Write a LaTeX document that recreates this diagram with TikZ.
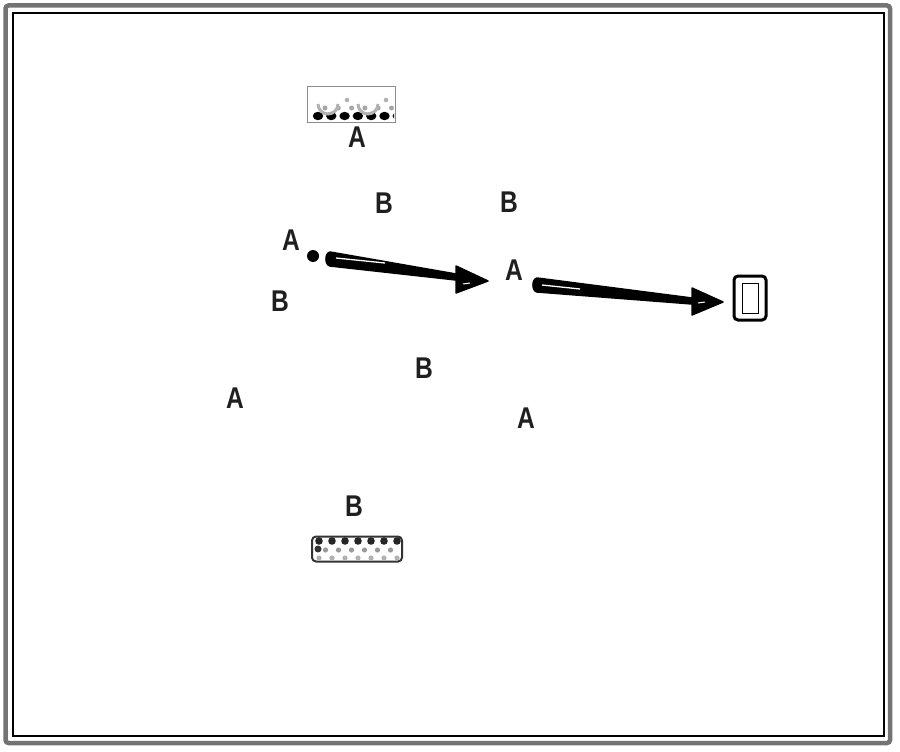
\documentclass[tikz,border=0pt]{standalone}
\usepackage{fontspec}
\setmainfont{Liberation Sans}
\newcommand{\lettr}[1]{\scalebox{0.82}[1]{\fontsize{30}{30}\selectfont\bfseries #1}}
\begin{document}
\begin{tikzpicture}[x=1pt,y=-1pt,
  lbl/.style={inner sep=0pt, text=black!88},
  wedge/.style={fill=black, draw=black, line width=1.5pt, line join=round}]
\useasboundingbox (0,0) rectangle (900,752);
% frame
\draw[line width=4.5pt, black!55, rounded corners=3pt] (5.5,5.5) rectangle (890,743);
\draw[line width=1.4pt] (13,13) rectangle (884,736);
% labels
\node[lbl] (a1) at (357,137) {\lettr{A}};
\node[lbl] (b1) at (384,203) {\lettr{B}};
\node[lbl] (b2) at (509,202) {\lettr{B}};
\node[lbl] (a2) at (291,240) {\lettr{A}};
\node[lbl] (a3) at (514,270) {\lettr{A}};
\node[lbl] (b3) at (280,301) {\lettr{B}};
\node[lbl] (b4) at (424,368) {\lettr{B}};
\node[lbl] (a4) at (235,398) {\lettr{A}};
\node[lbl] (a5) at (526,418) {\lettr{A}};
\node[lbl] (b5) at (354,506) {\lettr{B}};
% dot
\fill (313,256) circle (6);
% top patterned rectangle
\node[draw=black!45, line width=0.6pt, minimum width=88pt, minimum height=36pt, inner sep=0pt] (r1) at (351,104) {};
\begin{scope}
\clip (313,91) rectangle (394,120);
\foreach \i in {0,...,6} {\fill[black] (318+\i*13.3,116) ellipse (5.2 and 4.2);}
\foreach \i in {0,...,6} {\fill[black!35] (325+\i*13.3,108) circle (2.5);}
\draw[black!30, line width=3pt] (318,104) arc (180:0:10);
\draw[black!30, line width=3pt] (358,104) arc (180:0:10);
\fill[black!30] (347,100) circle (2.3);
\fill[black!30] (386,100) circle (2.3);
\end{scope}
% bottom patterned rectangle
\node[draw=black!80, line width=2pt, rounded corners=4pt, minimum width=90pt, minimum height=25pt, inner sep=0pt] (r2) at (357,549) {};
\foreach \i in {0,...,6} {\fill[black!85] (319+\i*13,541) circle (3.8);}
\foreach \i in {0,...,5} {\fill[black!40] (325.5+\i*13,550) circle (2.6);}
\foreach \i in {0,...,6} {\fill[black!30] (319+\i*13,558) circle (2.6);}
\fill[black!80] (318,549) circle (3.5);
% target box
\node[draw=black, line width=3pt, rounded corners=4pt, minimum width=32pt, minimum height=44pt, inner sep=0pt] (box) at (750,298) {};
\draw[line width=0.8pt] (742,283) rectangle (758,313);
% arrow 1
\coordinate (t1) at (329,259);
\coordinate (h1) at (488,281);
\fill[wedge] (330,252) -- (456,274) -- (456,266) -- (h1) -- (456,293) -- (456,280) -- (330,266) to[out=170,in=190] cycle;
\draw[white, line width=1.3pt] (336,258) -- (385,263);
\draw[white, line width=1pt] (463,284) -- (470,283);
% arrow 2
\coordinate (t2) at (536,285);
\coordinate (h2) at (723,302);
\fill[wedge] (537,278) -- (692,298) -- (692,288) -- (h2) -- (692,315) -- (692,304) -- (537,292) to[out=170,in=190] cycle;
\draw[white, line width=1.3pt] (542,285) -- (580,289);
\draw[white, line width=1pt] (698,303) -- (705,302);
\end{tikzpicture}
\end{document}
